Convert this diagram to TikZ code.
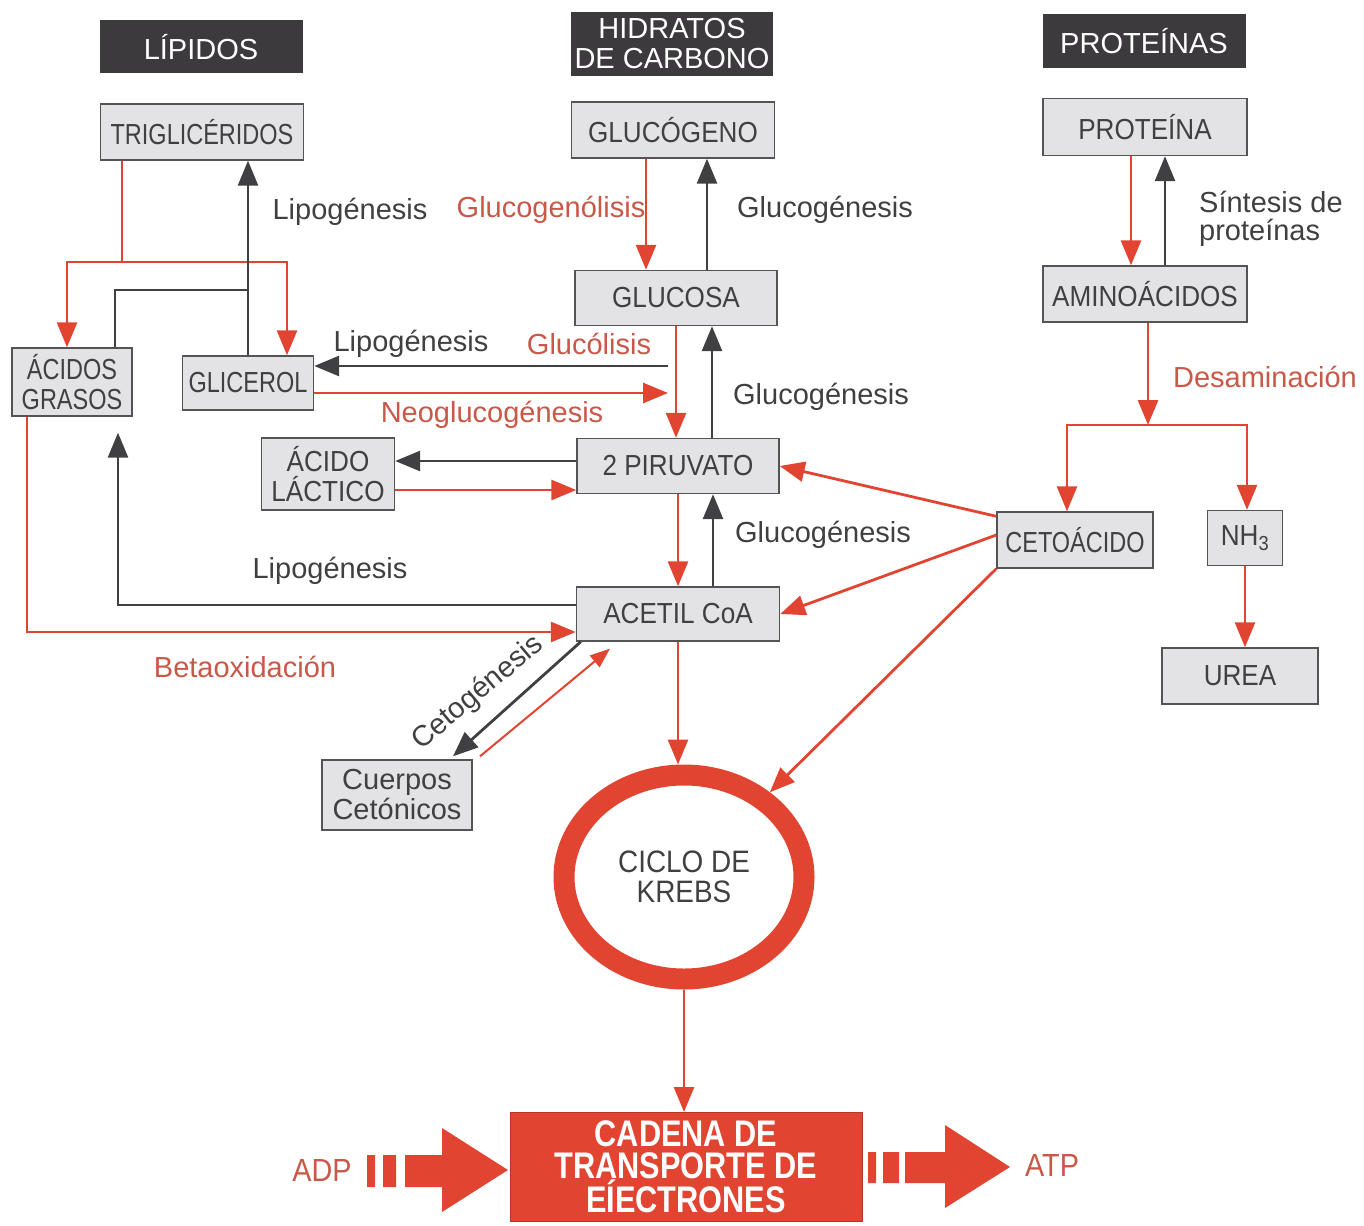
\documentclass[tikz,border=0pt]{standalone}
\usepackage{fontspec}
\setmainfont{Liberation Sans}
\newfontfamily\boxfont{Liberation Sans}[FakeStretch=0.9]
\newfontfamily\narrowfont{Liberation Sans}[FakeStretch=0.81]
\newfontfamily\cadenafont{Liberation Sans}[FakeStretch=0.83]
\usetikzlibrary{arrows.meta,calc,positioning,shapes.geometric}
\definecolor{arrowred}{RGB}{226,68,50}
\definecolor{labelred}{RGB}{200,88,72}
\definecolor{ink}{RGB}{64,64,66}
\definecolor{headfill}{RGB}{60,58,60}
\definecolor{boxfill}{RGB}{227,227,229}
\definecolor{boxline}{RGB}{84,84,86}
\tikzset{
  box/.style={draw=boxline,fill=boxfill,line width=1.4pt,inner sep=0pt,text=ink,
    align=center,font=\boxfont\fontsize{29}{30}\selectfont},
  narrowbox/.style={box,font=\narrowfont\fontsize{29}{30}\selectfont},
  head/.style={fill=headfill,text=white,inner sep=0pt,align=center,
    font=\fontsize{29}{30}\selectfont},
  rline/.style={draw=arrowred,line width=2.8pt},
  dline/.style={draw=ink,line width=2.8pt},
  rarrow/.style={rline,-{Triangle[length=25pt,width=20pt]}},
  darrow/.style={dline,-{Triangle[length=25pt,width=20pt]}},
  lbl/.style={text=ink,inner sep=0pt,font=\fontsize{29}{30}\selectfont},
  rlbl/.style={lbl,text=labelred}
}

\begin{document}
\begin{tikzpicture}[x=1pt,y=-1pt]
\useasboundingbox (0,0) rectangle (1364,1225);

% headers
\node[head,minimum width=203,minimum height=53] (hlip) at (201,47) {LÍPIDOS};
\node[head,minimum width=202,minimum height=64] (hhc) at (672,44) {HIDRATOS\\DE CARBONO};
\node[head,minimum width=203,minimum height=54] (hprot) at (1144,41) {PROTEÍNAS};

% compounds
\node[narrowbox,minimum width=203,minimum height=56] (trig) at (202,132) {TRIGLICÉRIDOS};
\node[box,minimum width=203,minimum height=56] (glucogeno) at (673,130) {GLUCÓGENO};
\node[box,minimum width=204,minimum height=57] (proteina) at (1145,127) {PROTEÍNA};
\node[box,minimum width=202,minimum height=55] (glucosa) at (676,298) {GLUCOSA};
\node[box,minimum width=204,minimum height=56] (amino) at (1145,294) {AMINOÁCIDOS};
\node[narrowbox,minimum width=120,minimum height=68] (acidos) at (72,382) {ÁCIDOS\\GRASOS};
\node[narrowbox,minimum width=131,minimum height=54] (glicerol) at (248,383) {GLICEROL};
\node[box,minimum width=133,minimum height=72] (lactico) at (328,474) {ÁCIDO\\LÁCTICO};
\node[box,minimum width=202,minimum height=55] (piruvato) at (678,466) {2 PIRUVATO};
\node[narrowbox,minimum width=156,minimum height=56] (ceto) at (1075,540) {CETOÁCIDO};
\node[box,minimum width=75,minimum height=55] (nh3) at (1245,538) {NH\textsubscript{3}};
\node[box,minimum width=203,minimum height=54] (acetil) at (678,614) {ACETIL CoA};
\node[box,minimum width=156,minimum height=56] (urea) at (1240,676) {UREA};
\node[box,minimum width=150,minimum height=70,font=\fontsize{29}{30}\selectfont] (cuerpos) at (397,795) {Cuerpos\\Cetónicos};
\node[ellipse,draw=arrowred,line width=21pt,minimum width=240,minimum height=204,inner sep=0pt,
  text=ink,align=center,font=\boxfont\fontsize{31}{30}\selectfont] (krebs) at (684,877) {CICLO DE\\KREBS};
\node[fill=arrowred,draw=arrowred!80!black,line width=1pt,minimum width=352,minimum height=109,
  inner sep=0pt,text=white,align=center,font=\cadenafont\bfseries\fontsize{37}{31.5}\selectfont]
  (cadena) at (686,1167) {CADENA DE\\TRANSPORTE DE\\EÍECTRONES};

% lipids
\coordinate (tsplit) at (122,262);
\coordinate (gjoin) at (248,290);
\draw[rline] ([xshift=-80]trig.south) -- (tsplit);
\draw[rarrow] (tsplit) -| ([xshift=-5]acidos.north);
\draw[rarrow] (tsplit) -| ([xshift=39]glicerol.north);
\draw[dline] ([xshift=43]acidos.north) |- (gjoin);
\draw[darrow] (glicerol.north) -- (glicerol.north |- trig.south);
\node[lbl] (l1) at (350,212) {Lipogénesis};

% carbohydrates
\draw[rarrow] ([xshift=-27]glucogeno.south) -- ([xshift=-27]glucogeno.south |- glucosa.north);
\draw[darrow] ([xshift=31]glucosa.north) -- ([xshift=31]glucosa.north |- glucogeno.south);
\node[rlbl] (l2) at (551,210) {Glucogenólisis};
\node[lbl] (l3) at (825,210) {Glucogénesis};

\draw[rarrow] (glucosa.south) -- (glucosa.south |- piruvato.north);
\draw[darrow] ([xshift=34]piruvato.north) -- ([xshift=34]piruvato.north |- glucosa.south);
\coordinate (lipo) at (668,366);
\coordinate (neo) at (668,393);
\draw[darrow] (lipo) -- (lipo -| glicerol.east);
\draw[rarrow] (neo -| glicerol.east) -- (neo);
\node[lbl] (l4) at (411,344) {Lipogénesis};
\node[rlbl] (l5) at (589,344) {Glucólisis};
\node[rlbl] (l6) at (492,415) {Neoglucogénesis};
\node[lbl] (l7) at (821,397) {Glucogénesis};

\draw[darrow] ([yshift=5]piruvato.west) -- ([yshift=5]piruvato.west -| lactico.east);
\draw[rarrow] ([yshift=-16]lactico.east) -- ([yshift=-16]lactico.east -| piruvato.west);
\draw[rarrow] (piruvato.south) -- (piruvato.south |- acetil.north);
\draw[darrow] ([xshift=35]acetil.north) -- ([xshift=35]acetil.north |- piruvato.south);
\node[lbl] (l8) at (823,535) {Glucogénesis};

% acetil CoA
\draw[darrow] ([yshift=9]acetil.west) -| ([xshift=46,yshift=-16]acidos.south);
\draw[rarrow] ([xshift=-45]acidos.south) |- ([yshift=-18]acetil.west);
\node[lbl] (l9) at (330,571) {Lipogénesis};
\node[rlbl] (l10) at (245,667) {Betaoxidación};

\draw[darrow] ([xshift=5]acetil.south west) -- ([xshift=56,yshift=3]cuerpos.north);
\draw[rline,-{Triangle[length=20pt,width=15pt]},line width=2pt] ([xshift=83,yshift=3]cuerpos.north) -- ([xshift=-68,yshift=-7]acetil.south);
\node[lbl,rotate=40] (l11) at (478,693) {Cetogénesis};

\draw[rarrow] (acetil.south) -- (acetil.south |- krebs.north);
\draw[rarrow] (krebs.south) -- (krebs.south |- cadena.north);

% proteins
\draw[rarrow] ([xshift=-14]proteina.south) -- ([xshift=-14]proteina.south |- amino.north);
\draw[darrow] ([xshift=20]amino.north) -- ([xshift=20]amino.north |- proteina.south);
\node[lbl,anchor=west,align=left,font=\fontsize{29}{28}\selectfont] (l12) at (1199,219) {Síntesis de\\proteínas};

\coordinate (desam) at (1148,425);
\draw[rarrow] ([xshift=3]amino.south) -- (desam);
\draw[rarrow] (desam) -| ([xshift=-8]ceto.north);
\draw[rarrow] (desam) -| ([xshift=2]nh3.north);
\node[rlbl] (l13) at (1265,377) {Desaminación};
\draw[rarrow] (nh3.south) -- (nh3.south |- urea.north);

\draw[rarrow] ([yshift=-5]ceto.north west) -- (piruvato.east);
\draw[rarrow] ([yshift=5]ceto.west) -- (acetil.east);
\draw[rarrow] (ceto.south west) -- (krebs);

% ADP / ATP
\node[text=labelred,inner sep=0pt,font=\boxfont\fontsize{32}{32}\selectfont] (adp) at (322,1170) {ADP};
\node[text=labelred,inner sep=0pt,font=\boxfont\fontsize{32}{32}\selectfont] (atp) at (1052,1165) {ATP};
\fill[arrowred] (367,1155) rectangle (375,1187) (383,1155) rectangle (396,1187);
\fill[arrowred] (405,1155) -- (442,1155) -- (442,1128) -- (508,1170) -- (442,1212) -- (442,1187) -- (405,1187) -- cycle;
\fill[arrowred] (868,1152) rectangle (876,1183) (883,1152) rectangle (899,1183);
\fill[arrowred] (905,1152) -- (945,1152) -- (945,1125) -- (1010,1167) -- (945,1208) -- (945,1183) -- (905,1183) -- cycle;
\end{tikzpicture}
\end{document}
